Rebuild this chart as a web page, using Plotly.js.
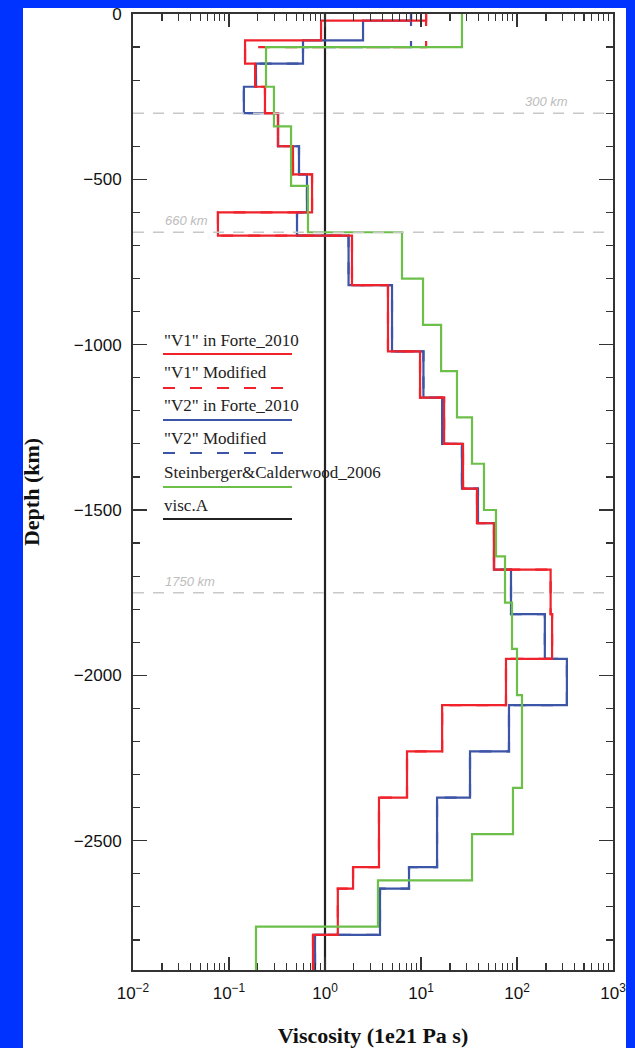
<!DOCTYPE html>
<html><head><meta charset="utf-8">
<script src="https://cdn.plot.ly/plotly-3.0.1.min.js"></script>
<style>html,body{margin:0;padding:0;background:#0033ff;} #plot{width:635px;height:1048px;}</style>
</head><body><div id="plot"></div>
<script>
// ---------- data (depth of layer tops in km, viscosity in 1e21 Pa s) ----------
const cmbDepth = 2891;

const forteTops = [0, 20, 80, 150, 220, 300, 400, 485, 600, 670, 820, 1020, 1160, 1300, 1435, 1540, 1680, 1815, 1950, 2090, 2230, 2370, 2580, 2645, 2785];
const v1Forte   = [11.3, 0.91, 0.147, 0.187, 0.237, 0.324, 0.464, 0.733, 0.0767, 1.91, 4.53, 9.77, 17.4, 27.4, 38.3, 57.6, 224, 232, 76.8, 16.6, 7.15, 3.65, 1.96, 1.36, 0.75];
const v2Forte   = [7.87, 2.49, 0.590, 0.191, 0.143, 0.324, 0.536, 0.649, 0.511, 1.76, 4.99, 10.6, 16.6, 26.7, 39.2, 57.6, 86.6, 195, 331, 82.5, 32.4, 14.7, 7.5, 3.74, 0.787];

const modTops   = [0, 100, 150, 220, 300, 400, 485, 600, 670, 820, 1020, 1160, 1300, 1435, 1540, 1680, 1815, 1950, 2090, 2230, 2370, 2580, 2645, 2785];
const v1Mod     = [11.3, 0.147, 0.187, 0.237, 0.324, 0.464, 0.733, 0.0767, 1.91, 4.53, 9.77, 17.4, 27.4, 38.3, 57.6, 224, 232, 76.8, 16.6, 7.15, 3.65, 1.96, 1.36, 0.75];
const v2Mod     = [7.87, 0.590, 0.191, 0.143, 0.324, 0.536, 0.649, 0.511, 1.76, 4.99, 10.6, 16.6, 26.7, 39.2, 57.6, 86.6, 195, 331, 82.5, 32.4, 14.7, 7.5, 3.74, 0.787];

const scTops    = [0, 100, 220, 340, 520, 660, 800, 940, 1080, 1220, 1360, 1500, 1640, 1780, 1920, 2060, 2340, 2480, 2620, 2760];
const scVals    = [26.7, 0.243, 0.294, 0.443, 0.665, 6.34, 10.5, 16.2, 23.7, 34.0, 45.3, 60.4, 75.0, 88.7, 100, 112.7, 90.8, 34.0, 3.56, 0.191];

const viscATops = [0];
const viscAVals = [1];

const refDepths = [300, 660, 1750];
const refLabels = ['300 km', '660 km', '1750 km'];

const seriesNames = ['"V1" in Forte_2010', '"V1" Modified', '"V2" in Forte_2010', '"V2" Modified', 'Steinberger&amp;Calderwood_2006', 'visc.A'];

const xTickVals = [0.01, 0.1, 1, 10, 100, 1000];
const xTickText = ['10<sup>\u22122</sup>', '10<sup>\u22121</sup>', '10<sup>0</sup>', '10<sup>1</sup>', '10<sup>2</sup>', '10<sup>3</sup>'];

// ---------- helpers ----------
function steps(tops, vals, bottom) {
  const x = [], y = [];
  for (let i = 0; i < vals.length; i++) {
    const b = (i + 1 < tops.length) ? tops[i + 1] : bottom;
    x.push(vals[i], vals[i]);
    y.push(-tops[i], -b);
  }
  return {x, y};
}
const RED = '#f0222b', BLUE = '#3d55a6', GREEN = '#6cc04a', BLACK = '#222222';
const colors = [RED, RED, BLUE, BLUE, GREEN, BLACK];
const dashes = ['solid', '12px,15px', 'solid', '12px,15px', 'solid', 'solid'];

function tr(tops, vals, idx) {
  const s = steps(tops, vals, cmbDepth);
  return {x: s.x, y: s.y, type: 'scatter', mode: 'lines', name: seriesNames[idx],
    line: {color: colors[idx], width: 2.2, dash: dashes[idx]}, showlegend: false, hoverinfo: 'x+y'};
}

const traces = [
  tr(viscATops, viscAVals, 5),
  tr(forteTops, v2Forte, 2),
  tr(modTops, v2Mod, 3),
  tr(forteTops, v1Forte, 0),
  tr(modTops, v1Mod, 1),
  tr(scTops, scVals, 4)
];

// minor ticks for log axis
const minorX = [];
for (let e = -2; e < 3; e++) for (let m = 2; m <= 9; m++) minorX.push(m * Math.pow(10, e));

// pixel geometry of plot area
const L = 133, R = 613, T = 14, B = 970, W = 635, H = 1048;
const px = x => (x - L) / (R - L);
const py = y => (B - y) / (B - T);

const shapes = [
  {type: 'rect', xref: 'paper', yref: 'paper', x0: px(23), x1: px(626), y0: py(H + 20), y1: py(8),
   fillcolor: 'white', line: {width: 0}, layer: 'below'}
];
refDepths.forEach(d => shapes.push({type: 'line', xref: 'paper', yref: 'y', x0: 0, x1: 1, y0: -d, y1: -d,
  line: {color: '#c8c8c8', width: 1.6, dash: '11px,9px'}, layer: 'above'}));

const annotations = [];
const refLabelX = [570, 163, 163];
const refAnchor = ['right', 'left', 'left'];
refDepths.forEach((d, i) => annotations.push({xref: 'paper', yref: 'y', x: px(refLabelX[i]), y: -d,
  xanchor: refAnchor[i], yanchor: 'bottom', yshift: 2, showarrow: false, text: '<i>' + refLabels[i] + '</i>',
  font: {family: 'Liberation Sans, Arial', size: 13, color: '#bdbdbd'}}));

// custom legend: text above a line sample
const legTextY = [340, 372, 405, 438, 472, 505];
const legLineY = [354, 388, 420, 453, 487, 519];
seriesNames.forEach((n, i) => {
  annotations.push({xref: 'paper', yref: 'paper', x: px(162), y: py(legTextY[i]), xanchor: 'left', yanchor: 'middle',
    showarrow: false, text: n, font: {family: 'Liberation Serif, Times New Roman, serif', size: 17, color: '#222'}});
  shapes.push({type: 'line', xref: 'paper', yref: 'paper', x0: px(163), x1: px(292), y0: py(legLineY[i]), y1: py(legLineY[i]),
    line: {color: colors[i], width: 2, dash: dashes[i]}});
});

const axisCommon = {
  showline: true, linewidth: 2, linecolor: '#333', mirror: 'allticks', showgrid: false, zeroline: false,
  ticks: 'inside', tickcolor: '#333', tickwidth: 1.3,
  tickfont: {family: 'Liberation Sans, Arial', size: 17, color: '#111'}
};

const layout = {
  width: W, height: H,
  margin: {l: L, r: W - R, t: T, b: H - B},
  paper_bgcolor: '#0033ff', plot_bgcolor: 'white',
  showlegend: false,
  xaxis: Object.assign({}, axisCommon, {
    type: 'log', range: [-2, 3], tickmode: 'array', tickvals: xTickVals, ticktext: xTickText, ticklen: 13,
    ticklabelstandoff: 7,
    minor: {tickmode: 'array', tickvals: minorX, ticks: 'inside', ticklen: 7, tickcolor: '#333', tickwidth: 1.2, showgrid: false},
    title: {text: '<b>Viscosity (1e21 Pa s)</b>', standoff: 25,
      font: {family: 'Liberation Serif, Times New Roman, serif', size: 22, color: '#111'}}
  }),
  yaxis: Object.assign({}, axisCommon, {
    range: [-cmbDepth, 0], tick0: 0, dtick: 500, ticklen: 14, ticklabelstandoff: 6,
    minor: {dtick: 100, ticks: 'inside', ticklen: 7, tickcolor: '#333', tickwidth: 1.2, showgrid: false},
    title: {text: '<b>Depth (km)</b>', standoff: 28,
      font: {family: 'Liberation Serif, Times New Roman, serif', size: 22, color: '#111'}}
  }),
  shapes: shapes,
  annotations: annotations
};

Plotly.newPlot('plot', traces, layout, {displayModeBar: false, staticPlot: true});
</script>
</body></html>
